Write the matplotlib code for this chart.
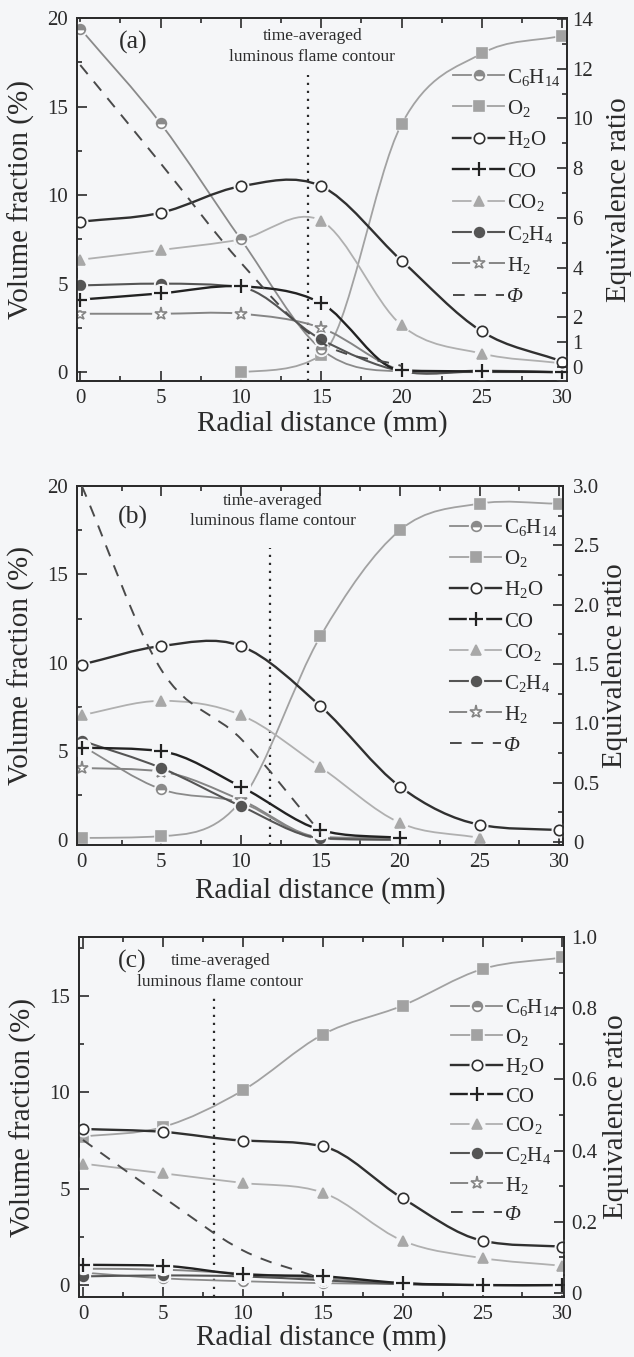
import numpy as np
import matplotlib
matplotlib.use("Agg")
import matplotlib.pyplot as plt
from matplotlib.path import Path
from matplotlib.patches import PathPatch
from matplotlib.ticker import MultipleLocator, FixedLocator, FuncFormatter
import matplotlib.transforms as mtransforms

plt.rcParams['font.family'] = ['Liberation Serif', 'DejaVu Serif']
plt.rcParams['mathtext.fontset'] = 'custom'
plt.rcParams['mathtext.rm'] = 'Liberation Serif'
plt.rcParams['mathtext.it'] = 'Liberation Serif:italic'

nan = np.nan
x_mm = [0, 5, 10, 15, 20, 25, 30]

# panel (a)  volume fraction (%) / equivalence ratio
a_c6h14 = [19.4, 14.05, 7.5, 1.3, 0.05, 0.0, 0.0]
a_o2 = [nan, nan, 0.0, 0.96, 14.0, 18.0, 19.0]
a_h2o = [8.5, 9.0, 10.5, 10.5, 6.3, 2.3, 0.6]
a_co = [4.1, 4.45, 4.85, 3.9, 0.1, 0.05, 0.0]
a_co2 = [6.35, 6.9, 7.5, 8.55, 2.65, 1.05, 0.5]
a_c2h4 = [4.9, 5.0, 4.8, 1.85, 0.05, 0.05, 0.0]
a_h2 = [3.3, 3.3, 3.3, 2.5, 0.1, 0.1, 0.0]
a_phi = [12.15, 8.2, 4.2, 1.0, 0.05, nan, nan]

# panel (b)
b_c6h14 = [5.3, 2.85, 2.1, 0.05, 0.0, nan, nan]
b_o2 = [0.1, 0.2, 2.2, 11.5, 17.5, 19.0, 19.0]
b_h2o = [9.9, 10.95, 10.95, 7.55, 3.0, 0.85, 0.55]
b_co = [5.2, 5.0, 3.0, 0.55, 0.1, nan, nan]
b_co2 = [7.05, 7.85, 7.05, 4.1, 0.95, 0.1, nan]
b_c2h4 = [5.6, 4.05, 1.9, 0.1, 0.0, nan, nan]
b_h2 = [4.05, 3.85, 2.25, 0.15, 0.1, nan, nan]
b_phi = [3.0, 1.45, 0.87, 0.08, nan, nan, nan]

# panel (c)
c_c6h14 = [0.65, 0.35, 0.2, 0.1, 0.05, 0.0, 0.0]
c_o2 = [7.7, 8.2, 10.1, 13.0, 14.5, 16.4, 17.0]
c_h2o = [8.1, 7.95, 7.5, 7.2, 4.5, 2.3, 2.0]
c_co = [1.05, 1.0, 0.55, 0.45, 0.1, 0.0, 0.0]
c_co2 = [6.3, 5.8, 5.3, 4.8, 2.3, 1.4, 1.0]
c_c2h4 = [0.45, 0.5, 0.45, 0.25, 0.05, 0.0, 0.0]
c_h2 = [0.85, 0.8, 0.6, 0.35, 0.1, 0.0, 0.0]
c_phi = [0.43, 0.27, 0.12, 0.04, nan, nan, nan]

species = ['C6H14', 'O2', 'H2O', 'CO', 'CO2', 'C2H4', 'H2']
legend_labels = [r'C$_6$H$_{14}$', r'O$_2$', r'H$_2$O', 'CO', r'CO$_2$',
                 r'C$_2$H$_4$', r'H$_2$', 'Φ']
panel_tags = ['(a)', '(b)', '(c)']
flame_x = [14.2, 11.8, 8.2]

BG = '#f5f6f8'
INK = '#2b2b2b'

style = {
    'C6H14': dict(color='#8a8a8a', lw=1.3, marker='o', ms=7, mfc='#8a8a8a', mec='#8a8a8a', fs='top', z=4),
    'O2':    dict(color='#a2a2a2', lw=1.3, marker='s', ms=6.5, mfc='#a2a2a2', mec='#a2a2a2', fs='full', z=2),
    'H2O':   dict(color='#303030', lw=1.7, marker='o', ms=7.5, mfc='white', mec='#303030', fs='full', z=8),
    'CO':    dict(color='#222222', lw=1.7, marker='+', ms=10, mfc='none', mec='#222222', fs='full', z=7),
    'CO2':   dict(color='#b0b0b0', lw=1.3, marker='^', ms=7.5, mfc='#a8a8a8', mec='#a8a8a8', fs='full', z=3),
    'C2H4':  dict(color='#555555', lw=1.5, marker='o', ms=7, mfc='#555555', mec='#555555', fs='full', z=6),
    'H2':    dict(color='#858585', lw=1.4, marker='*', ms=9.5, mfc='white', mec='#858585', fs='full', z=5),
}
phi_style = dict(color='#4a4a4a', lw=1.4, ls=(0, (6, 5)))


def smooth_path(xs, ys):
    # cubic Bezier through the measured points (Catmull-Rom tangents, limited
    # where a segment would overshoot badly between two rising/falling points)
    xs = np.asarray(xs, float)
    ys = np.asarray(ys, float)
    ok = np.isfinite(ys)
    verts, codes = [], []
    idx = np.where(ok)[0]
    runs = np.split(idx, np.where(np.diff(idx) > 1)[0] + 1)
    for r in runs:
        if len(r) < 2:
            continue
        x, y = xs[r], ys[r]
        n = len(x)
        d = np.diff(y) / np.diff(x)
        m = np.zeros(n)
        m[0] = d[0]
        m[-1] = d[-1]
        for i in range(1, n - 1):
            m[i] = (y[i + 1] - y[i - 1]) / (x[i + 1] - x[i - 1])
        for i in range(n - 1):
            if abs(d[i]) < 1e-12:
                continue
            a, b = m[i] / d[i], m[i + 1] / d[i]
            if a > 0 and b > 0 and a * a + b * b > 9:
                t = 3 / np.hypot(a, b)
                m[i] = t * a * d[i]
                m[i + 1] = t * b * d[i]
        verts.append((x[0], y[0]))
        codes.append(Path.MOVETO)
        for i in range(n - 1):
            h = x[i + 1] - x[i]
            verts += [(x[i] + h / 3, y[i] + m[i] * h / 3),
                      (x[i + 1] - h / 3, y[i + 1] - m[i + 1] * h / 3),
                      (x[i + 1], y[i + 1])]
            codes += [Path.CURVE4] * 3
    return Path(verts, codes)


def marker_kw(st):
    kw = dict(ls='none', marker=st['marker'], ms=st['ms'], mfc=st['mfc'], mec=st['mec'],
              mew=1.2 if st['marker'] != '+' else 1.6, fillstyle=st['fs'])
    if st['fs'] == 'top':
        kw['markerfacecoloralt'] = 'white'
    return kw


def draw_series(ax, ys, st):
    ax.add_patch(PathPatch(smooth_path(x_mm, ys), fill=False, edgecolor=st['color'],
                           lw=st['lw'], zorder=st['z'], capstyle='round'))
    ax.plot(x_mm, ys, ls='none', marker='o', ms=st['ms'] + 3, mfc=BG, mec=BG,
            zorder=st['z'] + 0.1)
    ax.plot(x_mm, ys, zorder=st['z'] + 0.2, **marker_kw(st))


def draw_legend(fig, ax, y0, dy):
    x0, xm, x1, xt = 0.768, 0.820, 0.872, 0.878
    txt_tr = mtransforms.offset_copy(ax.transAxes, fig=fig, y=-5.5, units='points')
    for i, name in enumerate(species + ['phi']):
        y = y0 - i * dy
        if name == 'phi':
            ax.plot([x0, x1], [y, y], transform=ax.transAxes, color=phi_style['color'],
                    lw=phi_style['lw'], ls=phi_style['ls'], clip_on=False, zorder=10)
            ax.text(xt, y, legend_labels[i], transform=txt_tr, ha='left', va='baseline',
                    fontsize=15, color=INK, zorder=11, fontstyle='italic')
            continue
        st = style[name]
        ax.plot([x0, x1], [y, y], transform=ax.transAxes, color=st['color'],
                lw=st['lw'], clip_on=False, zorder=10)
        ax.plot([xm], [y], transform=ax.transAxes, ls='none', marker='o',
                ms=st['ms'] + 3, mfc=BG, mec=BG, clip_on=False, zorder=10.1)
        ax.plot([xm], [y], transform=ax.transAxes, clip_on=False, zorder=10.2, **marker_kw(st))
        ax.text(xt, y, legend_labels[i], transform=txt_tr, ha='left', va='baseline',
                fontsize=15, color=INK, zorder=11)


fig = plt.figure(figsize=(6.34, 13.57), dpi=100, facecolor=BG)

panels = [
    dict(rect=[0.1215, 0.7192, 0.7728, 0.2675], xlim=(-0.2, 30.3), ylim=(-0.5, 20.0),
         y2lim=(-0.56, 14.04), data=[a_c6h14, a_o2, a_h2o, a_co, a_co2, a_c2h4, a_h2], phi=a_phi,
         y2major=[0, 1, 2, 4, 6, 8, 10, 12, 14], y2minor=[3, 5, 7, 9, 11, 13], y2fmt='int',
         tag_xy=(3.3, 18.6), note_x=14.45, note_y=(19.0, 17.8), flame_y=(-0.5, 16.8),
         leg=(0.843, 0.0865), xlab_y=-0.08, y2pad=4),
    dict(rect=[0.1215, 0.3773, 0.7666, 0.2646], xlim=(-0.3, 30.25), ylim=(-0.3, 20.0),
         y2lim=(-0.025, 3.0), data=[b_c6h14, b_o2, b_h2o, b_co, b_co2, b_c2h4, b_h2], phi=b_phi,
         y2major=list(np.arange(0, 3.01, 0.5)), y2minor=list(np.arange(0.25, 3.0, 0.5)), y2fmt='dec',
         tag_xy=(3.2, 18.2), note_x=12.0, note_y=(19.15, 18.0), flame_y=(-0.3, 16.5),
         leg=(0.889, 0.0864), xlab_y=-0.089, y2pad=7),
    dict(rect=[0.1246, 0.0442, 0.7650, 0.2653], xlim=(-0.25, 30.1), ylim=(-0.62, 18.06),
         y2lim=(-0.011, 1.0), data=[c_c6h14, c_o2, c_h2o, c_co, c_co2, c_c2h4, c_h2], phi=c_phi,
         y2major=list(np.arange(0, 1.01, 0.2)), y2minor=list(np.arange(0.1, 1.0, 0.2)), y2fmt='dec',
         tag_xy=(3.1, 16.8), note_x=8.6, note_y=(16.8, 15.75), flame_y=(-0.62, 15.0),
         leg=(0.809, 0.082), xlab_y=-0.074, y2pad=5),
]

for k, p in enumerate(panels):
    ax = fig.add_axes(p['rect'])
    ax.set_facecolor('none')
    ax2 = ax.twinx()
    ax2.set_facecolor('none')

    for name, ys in zip(species, p['data']):
        draw_series(ax, ys, style[name])
    ax2.add_patch(PathPatch(smooth_path(x_mm, p['phi']), fill=False, edgecolor=phi_style['color'],
                            lw=phi_style['lw'], ls=phi_style['ls'], zorder=3))

    ax.vlines(flame_x[k], p['flame_y'][0], p['flame_y'][1], colors=INK, lw=1.6,
              linestyles=(0, (1, 2.6)), zorder=1)
    ax.text(p['note_x'], p['note_y'][0], 'time-averaged', ha='center', va='center',
            fontsize=12.5, color=INK)
    ax.text(p['note_x'], p['note_y'][1], 'luminous flame contour', ha='center', va='center',
            fontsize=12.5, color=INK)
    ax.text(p['tag_xy'][0], p['tag_xy'][1], panel_tags[k], ha='center', va='center',
            fontsize=18.5, color=INK)

    draw_legend(fig, ax, p['leg'][0], p['leg'][1])

    ax.set_xlim(*p['xlim'])
    ax.set_ylim(*p['ylim'])
    ax2.set_ylim(*p['y2lim'])

    ax.xaxis.set_major_locator(MultipleLocator(5))
    ax.xaxis.set_minor_locator(MultipleLocator(2.5))
    ax.yaxis.set_major_locator(MultipleLocator(5))
    ax.yaxis.set_minor_locator(MultipleLocator(2.5))
    ax2.yaxis.set_major_locator(FixedLocator(p['y2major']))
    ax2.yaxis.set_minor_locator(FixedLocator(p['y2minor']))
    if p['y2fmt'] == 'dec':
        ax2.yaxis.set_major_formatter(FuncFormatter(lambda v, pos: '0' if abs(v) < 1e-9 else f'{v:.1f}'))
    else:
        ax2.yaxis.set_major_formatter(FuncFormatter(lambda v, pos: f'{v:.0f}'))

    ax.tick_params(which='both', direction='in', top=True, right=False, width=1.2,
                   color=INK, labelcolor=INK, labelsize=15)
    ax.tick_params(which='major', length=7)
    ax.tick_params(which='minor', length=3.5)
    ax.tick_params(axis='x', pad=6)
    ax.tick_params(axis='y', pad=6.5)
    ax2.tick_params(which='both', direction='in', width=1.2, color=INK, labelcolor=INK,
                    labelsize=15, pad=p['y2pad'])
    ax2.tick_params(which='major', length=7)
    ax2.tick_params(which='minor', length=3.5)

    for sp in list(ax.spines.values()) + list(ax2.spines.values()):
        sp.set_linewidth(1.3)
        sp.set_color(INK)

    ax.set_xlabel('Radial distance (mm)', fontsize=21, color=INK)
    ax.xaxis.set_label_coords(0.5, p['xlab_y'])
    ax.set_ylabel('Volume fraction (%)', fontsize=21, color=INK)
    ax.yaxis.set_label_coords(-0.086, 0.5)
    ax2.set_ylabel('Equivalence ratio', fontsize=21, color=INK)
    ax2.yaxis.set_label_coords(1.08, 0.5)

fig.savefig('out.png', dpi=100, facecolor=BG)
